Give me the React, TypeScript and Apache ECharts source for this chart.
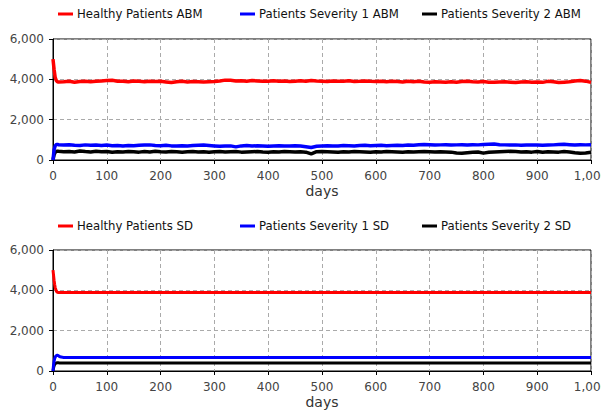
import React, { useEffect, useRef } from "react";
import * as echarts from "echarts";

const abmDays = [0, 2, 4, 6, 8, 10,
  20, 30, 40, 50, 60, 70, 80, 90, 100,
  110, 120, 130, 140, 150, 160, 170, 180, 190, 200,
  210, 220, 230, 240, 250, 260, 270, 280, 290, 300,
  310, 320, 330, 340, 350, 360, 370, 380, 390, 400,
  410, 420, 430, 440, 450, 460, 470, 480, 490, 500,
  510, 520, 530, 540, 550, 560, 570, 580, 590, 600,
  610, 620, 630, 640, 650, 660, 670, 680, 690, 700,
  710, 720, 730, 740, 750, 760, 770, 780, 790, 800,
  810, 820, 830, 840, 850, 860, 870, 880, 890, 900,
  910, 920, 930, 940, 950, 960, 970, 980, 990, 1000];

const healthyABM = [5000, 4500, 4100, 3950, 3880, 3870,
  3880, 3900, 3860, 3890, 3910, 3880, 3900, 3920, 3940,
  3950, 3910, 3900, 3880, 3920, 3900, 3880, 3910, 3890, 3900,
  3870, 3840, 3880, 3900, 3870, 3890, 3880, 3870, 3880, 3890,
  3920, 3960, 3950, 3920, 3930, 3910, 3940, 3920, 3900, 3910,
  3930, 3900, 3920, 3890, 3910, 3930, 3900, 3940, 3920, 3910,
  3890, 3920, 3900, 3910, 3930, 3890, 3900, 3920, 3900, 3890,
  3910, 3880, 3900, 3890, 3870, 3900, 3880, 3900, 3870, 3850,
  3880, 3870, 3860, 3880, 3860, 3890, 3900, 3880, 3870, 3890,
  3860, 3850, 3870, 3880, 3860, 3840, 3870, 3880, 3860, 3870,
  3850, 3900, 3880, 3840, 3860, 3880, 3920, 3940, 3910, 3850];

const sev1ABM = [0, 500, 700, 760, 780, 760,
  740, 760, 730, 720, 750, 730, 740, 720, 740,
  710, 720, 700, 720, 710, 730, 740, 750, 720, 710,
  730, 700, 690, 710, 700, 720, 730, 740, 720, 700,
  680, 690, 700, 650, 700, 720, 690, 710, 700, 680,
  700, 710, 690, 700, 710, 690, 660, 620, 680, 700,
  710, 700, 690, 720, 710, 700, 720, 730, 710, 720,
  730, 710, 720, 730, 720, 740, 730, 760, 770, 760,
  740, 750, 760, 740, 750, 760, 740, 760, 750, 770,
  780, 790, 760, 750, 740, 750, 730, 740, 750, 740,
  730, 740, 750, 770, 780, 760, 740, 760, 750, 760];

const sev2ABM = [0, 250, 380, 420, 440, 430,
  410, 420, 400, 450, 420, 400, 430, 410, 420,
  380, 410, 400, 420, 410, 390, 420, 400, 430, 410,
  400, 420, 410, 390, 410, 420, 400, 410, 380, 410,
  420, 400, 410, 420, 390, 400, 410, 420, 400, 390,
  410, 400, 420, 410, 400, 410, 390, 300, 410, 420,
  410, 400, 390, 410, 400, 420, 410, 400, 390, 410,
  400, 420, 410, 400, 390, 410, 400, 410, 420, 410,
  400, 410, 400, 390, 350, 340, 360, 380, 400, 340,
  380, 400, 410, 420, 430, 420, 400, 410, 390, 420,
  380, 410, 400, 390, 420, 400, 360, 330, 350, 380];

const sdDays = [0, 1, 2, 3, 4, 5, 6, 7, 8, 10, 12, 15, 20, 1000];
const healthySD = [5000, 4750, 4500, 4300, 4150, 4050, 3980, 3930, 3900, 3890, 3890, 3890, 3890, 3890];
const sev1SD = [0, 300, 480, 600, 680, 730, 760, 775, 780, 760, 720, 690, 675, 670];
const sev2SD = [0, 150, 250, 320, 360, 385, 398, 405, 408, 405, 402, 400, 400, 400];

const seriesNames = [
  ["Healthy Patients ABM", "Patients Severity 1 ABM", "Patients Severity 2 ABM"],
  ["Healthy Patients SD", "Patients Severity 1 SD", "Patients Severity 2 SD"],
];
const colors = ["#ff0000", "#0000ff", "#000000"];

const zip = (xs: number[], ys: number[]) => xs.map((x, i) => [x, ys[i]]);
const fmt = (v: number) => String(v).replace(/\B(?=(\d{3})+(?!\d))/g, ",");

export default function App() {
  const ref = useRef<HTMLDivElement>(null);
  useEffect(() => {
    document.body.style.margin = "0";
    const chart = echarts.init(ref.current!, null, { renderer: "svg" });
    const font = "DejaVu Sans";
    const grids = [
      { left: 53, top: 39, width: 538, height: 121 },
      { left: 53, top: 250, width: 538, height: 121 },
    ];
    const legendLefts = [58, 240, 422];
    const legendTops = [8, 220];
    const legends: any[] = [];
    seriesNames.forEach((names, g) => {
      names.forEach((n, i) => {
        legends.push({
          data: [n],
          left: legendLefts[i],
          top: legendTops[g],
          icon: "rect",
          itemWidth: 15,
          itemHeight: 3,
          itemGap: 0,
          padding: 0,
          selectedMode: false,
          textStyle: { fontFamily: font, fontSize: 11.7, color: "#111", padding: [0, 0, 0, -1] },
        });
      });
    });
    const xAxes = grids.map((_, g) => ({
      type: "value",
      gridIndex: g,
      min: 0,
      max: 1000,
      interval: 100,
      name: "days",
      nameLocation: "middle",
      nameGap: 24,
      nameTextStyle: { fontFamily: font, fontSize: 14, color: "#333", verticalAlign: "top" },
      axisLine: { show: true, lineStyle: { color: "#000", width: 1 } },
      axisTick: { show: true, length: 4, lineStyle: { color: "#000" } },
      axisLabel: { fontFamily: font, fontSize: 12, color: "#444", margin: 10, formatter: fmt },
      splitLine: { show: true, lineStyle: { color: "#aaa", type: [4, 3], width: 1 } },
    }));
    const yAxes = grids.map((_, g) => ({
      type: "value",
      gridIndex: g,
      min: 0,
      max: 6000,
      interval: 2000,
      axisLine: { show: true, lineStyle: { color: "#000", width: 1 } },
      axisTick: { show: true, length: 4, lineStyle: { color: "#000" } },
      axisLabel: { fontFamily: font, fontSize: 12, color: "#444", margin: 9, formatter: fmt },
      splitLine: { show: true, lineStyle: { color: "#aaa", type: [4, 3], width: 1 } },
    }));
    const abm = [healthyABM, sev1ABM, sev2ABM];
    const sd = [healthySD, sev1SD, sev2SD];
    const series: any[] = [];
    abm.forEach((vals, i) => {
      series.push({
        type: "line",
        name: seriesNames[0][i],
        xAxisIndex: 0,
        yAxisIndex: 0,
        data: zip(abmDays, vals),
        showSymbol: false,
        lineStyle: { color: colors[i], width: 3.5 },
        itemStyle: { color: colors[i] },
        z: 10 - i,
      });
    });
    sd.forEach((vals, i) => {
      series.push({
        type: "line",
        name: seriesNames[1][i],
        xAxisIndex: 1,
        yAxisIndex: 1,
        data: zip(sdDays, vals),
        showSymbol: false,
        lineStyle: { color: colors[i], width: 3 },
        itemStyle: { color: colors[i] },
        z: 10 - i,
      });
    });
    chart.setOption({
      animation: false,
      backgroundColor: "#fff",
      grid: grids.map((g) => ({
        ...g,
        show: true,
        borderColor: "#000",
        borderWidth: 1,
        backgroundColor: "transparent",
        containLabel: false,
        outerBoundsMode: "none",
      })),
      legend: legends,
      xAxis: xAxes,
      yAxis: yAxes,
      series,
    });
    return () => chart.dispose();
  }, []);
  return <div ref={ref} style={{ width: 601, height: 414 }} />;
}
